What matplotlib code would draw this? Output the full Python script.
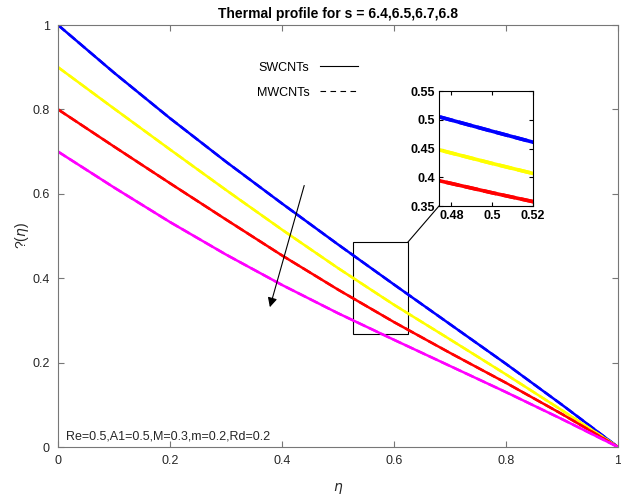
import matplotlib
matplotlib.use('Agg')
from matplotlib import pyplot as plt
from matplotlib.lines import Line2D
from matplotlib.patches import Rectangle

plt.rcParams['font.family'] = ['Liberation Sans', 'DejaVu Sans']

eta = [0.0, 0.1, 0.2, 0.3, 0.4, 0.5, 0.6, 0.7, 0.8, 0.9, 1.0]
s_vals = ['6.4', '6.5', '6.7', '6.8']
theta_s64 = [1.0, 0.887, 0.779, 0.676, 0.577, 0.480, 0.385, 0.291, 0.197, 0.100, 0.0]
theta_s65 = [0.9, 0.802, 0.705, 0.609, 0.515, 0.424, 0.337, 0.255, 0.172, 0.087, 0.0]
theta_s67 = [0.8, 0.712, 0.625, 0.539, 0.454, 0.373, 0.296, 0.223, 0.152, 0.078, 0.0]
theta_s68 = [0.7, 0.615, 0.533, 0.456, 0.384, 0.317, 0.254, 0.192, 0.130, 0.066, 0.0]
ticks = [0, 0.2, 0.4, 0.6, 0.8, 1]
tick_labels = ['0', '0.2', '0.4', '0.6', '0.8', '1']
inset_xticks = [0.48, 0.5, 0.52]
inset_yticks = [0.35, 0.4, 0.45, 0.5, 0.55]

series = [theta_s64, theta_s65, theta_s67, theta_s68]
colors = ['#0000ff', '#ffff00', '#ff0000', '#ff00ff']

fig = plt.figure(figsize=(6.21, 4.98), dpi=100)
ax = fig.add_axes([58/621, 51/498, 560/621, 422/498])

for th, c in zip(series, colors):
  ax.plot(eta, th, color=c, lw=1.8, linestyle='-')
  ax.plot(eta, th, color=c, lw=1.8, linestyle='--')

ax.set_xlim(0, 1)
ax.set_ylim(0, 1)
ax.set_xticks(ticks)
ax.set_xticklabels(tick_labels)
ax.set_yticks(ticks)
ax.set_yticklabels(tick_labels)
ax.tick_params(direction='in', length=4, top=True, right=True,
  labelsize=9, colors='#777777', labelcolor='#262626', pad=6)
for sp in ax.spines.values():
  sp.set_color('#777777')

ax.set_xlabel(r'$\eta$', fontsize=10, color='#262626', labelpad=10)
ax.set_ylabel(r'?($\eta$)', fontsize=10, color='#262626', labelpad=1)
ax.set_title('Thermal profile for s = ' + ','.join(s_vals),
  fontsize=10, fontweight='bold', pad=5)

ax.text(0.015, 0.024, 'Re=0.5,A1=0.5,M=0.3,m=0.2,Rd=0.2',
  fontsize=9, color='#262626', va='center', transform=ax.transAxes)

# legend, text before line
h1 = Line2D([0], [0], color='black', lw=0.8, linestyle='-')
h2 = Line2D([0], [0], color='black', lw=0.8, linestyle=(0, (5, 4)))
ax.legend([h1, h2], ['SWCNTs', 'MWCNTs'], markerfirst=False, frameon=False,
  fontsize=9, handlelength=3.1, loc='upper left',
  bbox_to_anchor=(0.335, 0.94), labelspacing=1.05)

# arrow for increasing s
ax.annotate('', xy=(0.377, 0.325), xytext=(0.441, 0.626),
  arrowprops=dict(arrowstyle='-|>', color='black', lw=0.8,
    mutation_scale=14))

# zoom box
ax.add_patch(Rectangle((0.527, 0.268), 0.098, 0.218, fill=False,
  edgecolor='black', lw=0.8))

axi = fig.add_axes([439/621, 292/498, 94/621, 115/498])
for th, c in zip(series[:3], colors[:3]):
  axi.plot(eta, th, color=c, lw=2.6, linestyle='-')
  axi.plot(eta, th, color=c, lw=2.6, linestyle='--')
axi.set_xlim(0.474, 0.52)
axi.set_ylim(0.35, 0.55)
axi.set_xticks(inset_xticks)
axi.set_xticklabels(['0.48', '0.5', '0.52'])
axi.set_yticks(inset_yticks)
axi.set_yticklabels(['0.35', '0.4', '0.45', '0.5', '0.55'])
axi.tick_params(direction='in', length=3, top=True, right=True, labelsize=9, pad=3)
for lab in axi.get_xticklabels() + axi.get_yticklabels():
  lab.set_fontweight('bold')
for sp in axi.spines.values():
  sp.set_linewidth(0.8)

# line from box corner to inset
fig.add_artist(Line2D([408/621, 439/621], [256/498, 292/498],
  color='black', lw=0.8))

plt.savefig('out.png', dpi=100)
